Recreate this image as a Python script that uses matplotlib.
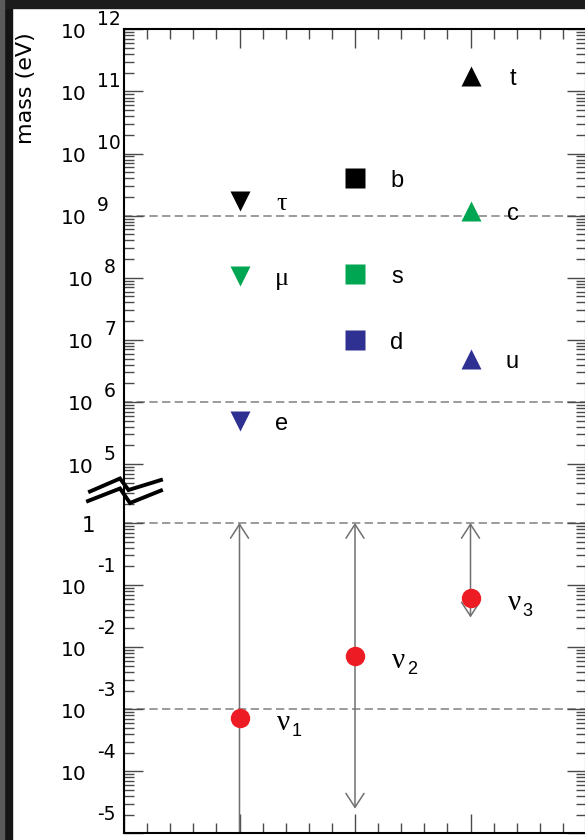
import numpy as np
import matplotlib
matplotlib.use('Agg')
import matplotlib.pyplot as plt
from matplotlib.ticker import FixedLocator, NullFormatter
from matplotlib.patches import Rectangle
from matplotlib.lines import Line2D

# column 1: charged leptons, 2: down-type quarks, 3: up-type quarks
columns = [1, 2, 3]
gen_colors = ['#2e3192', '#00a651', 'black']

lepton_names = ['e', 'μ', 'τ']
lepton_mass = [5.0e5, 1.07e8, 1.7e9]
down_names = ['d', 's', 'b']
down_mass = [9.8e6, 1.15e8, 4.1e9]
up_names = ['u', 'c', 't']
up_mass = [5.0e6, 1.2e9, 1.8e11]

# neutrinos (eV): point and allowed range
nu_subscripts = ['1', '2', '3']
nu_mass = [7.2e-4, 7.1e-3, 6.1e-2]
nu_upper = [1.0, 1.0, 1.0]
nu_lower = [1e-5, 2.5e-5, 3.0e-2]

ref_lines = [1e9, 1e6, 1.0, 1e-3]

ytick_vals = [1e-5, 1e-4, 1e-3, 1e-2, 1e-1, 1.0,
              1e5, 1e6, 1e7, 1e8, 1e9, 1e10, 1e11, 1e12]
ytick_base = ['', '10', '10', '10', '10', '1',
              '10', '10', '10', '10', '10', '10', '10', '10']
ytick_exp = ['-5', '-4', '-3', '-2', '-1', '',
             '5', '6', '7', '8', '9', '10', '11', '12']

# broken log axis: everything between ~3 eV and ~50 keV is squeezed out
GAP = 4.052
L_KNOTS = [-30.0, 0.48, 4.70, 40.0]
T_KNOTS = [-30.0, 0.48, 4.70 - GAP, 40.0 - GAP]


def fwd(m):
    m = np.clip(np.asarray(m, dtype=float), 1e-30, None)
    return np.interp(np.log10(m), L_KNOTS, T_KNOTS)


def inv(t):
    return 10 ** np.interp(np.asarray(t, dtype=float), T_KNOTS, L_KNOTS)


P = 72 / 100  # points per pixel

fig = plt.figure(figsize=(5.85, 8.4), dpi=100)
ax = fig.add_axes([124 / 585, 6.6 / 840, 462 / 585, 804 / 840])
ax.set_yscale('function', functions=(fwd, inv))
ax.set_xlim(0, 4)
ax.set_ylim(1e-5, 1e12)

for v in ref_lines:
    ax.axhline(v, color='#8a8a8a', lw=1.2, ls=(0, (5, 2.6)), zorder=1)

# neutrino ranges
for c, lo, hi in zip(columns, nu_lower, nu_upper):
    style = '->' if lo <= 1e-5 else '<->'
    ax.annotate('', xy=(c, hi), xytext=(c, lo),
                arrowprops=dict(arrowstyle=style + ',head_length=1.0,head_width=0.65',
                                color='#707070', lw=1.1, shrinkA=0, shrinkB=0,
                                mutation_scale=10),
                zorder=2)

ax.plot(columns, nu_mass, ls='none', marker='o', ms=14, color='#ed1c24',
        mec='none', zorder=4)

groups = [(1, lepton_names, lepton_mass, 'v'),
          (2, down_names, down_mass, 's'),
          (3, up_names, up_mass, '^')]
for col, names, masses, mk in groups:
    for name, m, colr in zip(names, masses, gen_colors):
        ms = 14.4 if mk == 's' else 13.7
        ax.plot([col], [m], ls='none', marker=mk, ms=ms, color=colr,
                mec='none', zorder=4)
        greek = name in ('μ', 'τ')
        fam = ['Liberation Serif', 'DejaVu Serif'] if greek else ['Liberation Sans', 'DejaVu Sans']
        ax.annotate(name, xy=(col, m), xytext=(42 * P, -3 * P),
                    textcoords='offset points', ha='center', va='center',
                    fontsize=19 if greek else 17, family=fam)

for col, sub, m in zip(columns, nu_subscripts, nu_mass):
    ax.annotate('ν', xy=(col, m), xytext=(37 * P, -12 * P),
                textcoords='offset points', ha='left', va='baseline',
                fontsize=21, family=['Liberation Serif', 'DejaVu Serif'])
    ax.annotate(sub, xy=(col, m), xytext=(52 * P, -18 * P),
                textcoords='offset points', ha='left', va='baseline',
                fontsize=13, family=['Liberation Sans', 'DejaVu Sans'])

# ticks
minor = []
for e in range(-5, 0):
    minor += [k * 10.0 ** e for k in range(2, 10)]
minor += [2.0, 3.0]
minor += [k * 1e4 for k in range(5, 10)]
for e in range(5, 12):
    minor += [k * 10.0 ** e for k in range(2, 10)]
ax.yaxis.set_major_locator(FixedLocator(ytick_vals))
ax.yaxis.set_minor_locator(FixedLocator(minor))
ax.yaxis.set_major_formatter(NullFormatter())
ax.yaxis.set_minor_formatter(NullFormatter())
ax.xaxis.set_major_locator(FixedLocator([0, 1, 2, 3, 4]))
ax.xaxis.set_minor_locator(FixedLocator(np.arange(0, 4.01, 0.2)))
ax.xaxis.set_major_formatter(NullFormatter())
ax.tick_params(which='both', direction='in', left=True, right=True,
               top=True, bottom=True, color='#4a4a4a', width=1.0)
ax.tick_params(which='major', length=14)
ax.tick_params(which='minor', length=7)
for sp in ax.spines.values():
    sp.set_linewidth(1.5)

# y tick labels drawn as "10" plus a raised exponent
for v, base, ex in zip(ytick_vals, ytick_base, ytick_exp):
    single = ex in ('5', '6', '7', '8')
    right = -30 if single else -37
    if base == '1':
        ax.annotate('1', xy=(0, v), xycoords=('axes fraction', 'data'),
                    xytext=(-29 * P, -9 * P), textcoords='offset points',
                    ha='right', va='baseline', fontsize=15.5, family='DejaVu Sans')
        continue
    if base:
        ax.annotate(base, xy=(0, v), xycoords=('axes fraction', 'data'),
                    xytext=(right * P, -8.5 * P), textcoords='offset points',
                    ha='right', va='baseline', fontsize=14.5, family='DejaVu Sans',
                    annotation_clip=False)
    lift = 22 if ex.startswith('-') else 13
    ax.annotate(ex.replace('-', '\u2010'), xy=(0, v), xycoords=('axes fraction', 'data'),
                xytext=((right + 10) * P, (lift - 8.5) * P), textcoords='offset points',
                ha='left', va='baseline', fontsize=13.5, family='DejaVu Sans',
                annotation_clip=False)

fig.text(26 / 585, 1 - 88 / 840, 'mass (eV)', rotation=90, ha='center',
         va='center', fontsize=16, family='DejaVu Sans')

# axis-break zigzags
W, H = 585.0, 840.0
zz_upper = [(90, 491.5), (120, 478.5), (128.5, 490), (161, 480)]
zz_lower = [(88, 501), (120, 488.5), (130, 503), (161, 490.5)]
for pts in (zz_upper, zz_lower):
    xs = [p[0] / W for p in pts]
    ys = [1 - p[1] / H for p in pts]
    fig.add_artist(Line2D(xs, ys, transform=fig.transFigure, color='black',
                          lw=2.8, solid_joinstyle='miter', zorder=10))

# dark frame at left and top edges of the screenshot
fig.patches.append(Rectangle((0, 0), 12 / W, 1, transform=fig.transFigure,
                             color='#141414', zorder=20))
fig.patches.append(Rectangle((0, 0), 4 / W, 1, transform=fig.transFigure,
                             color='#5a5a5a', zorder=21))
fig.patches.append(Rectangle((0, 1 - 8 / H), 1, 8 / H, transform=fig.transFigure,
                             color='#1c1c1c', zorder=20))

fig.savefig('out.png', dpi=100)
